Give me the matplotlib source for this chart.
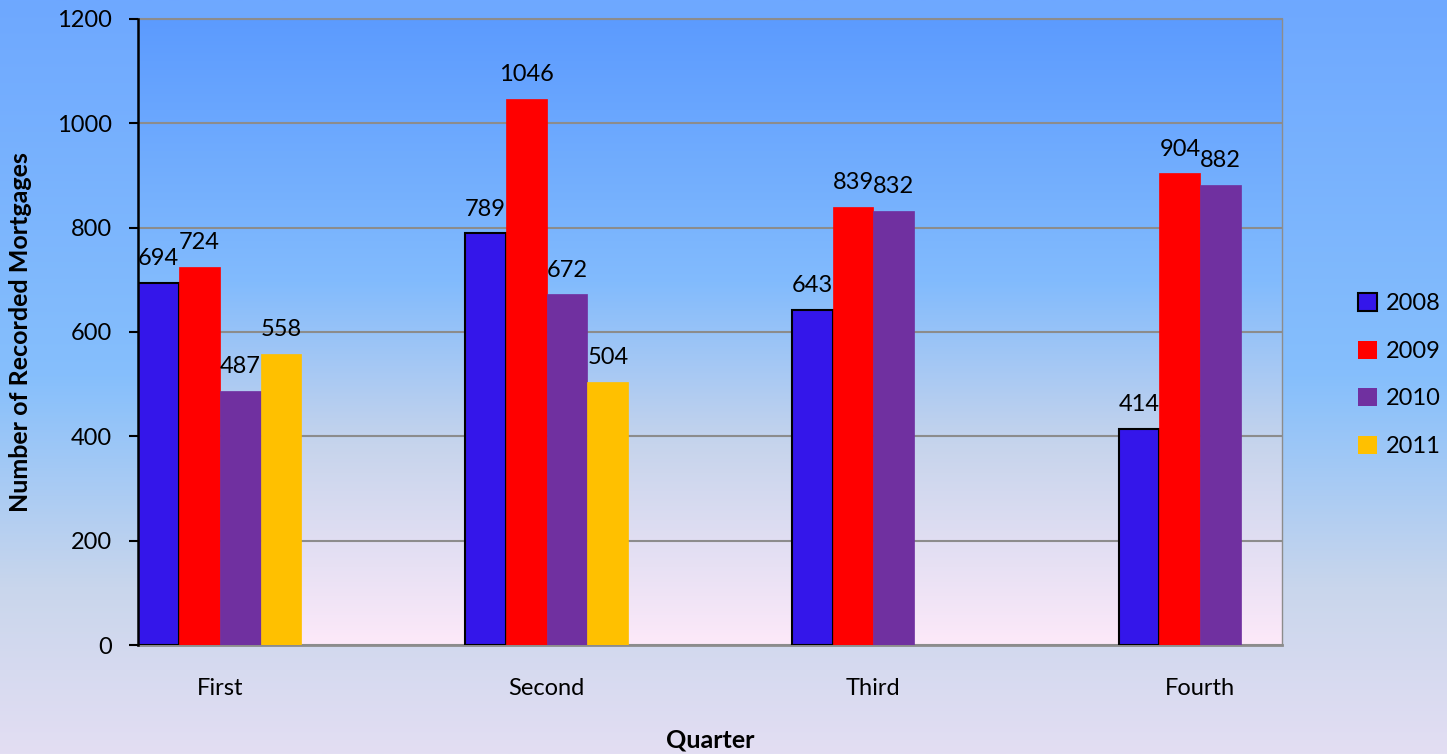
import numpy as np
import matplotlib
matplotlib.use("Agg")
import matplotlib.pyplot as plt
from matplotlib.colors import LinearSegmentedColormap
from matplotlib.patches import Patch

plt.rcParams['font.family'] = ['Lato', 'DejaVu Sans']

quarters = ["First", "Second", "Third", "Fourth"]
years = ["2008", "2009", "2010", "2011"]
values = {
    "2008": [694, 789, 643, 414],
    "2009": [724, 1046, 839, 904],
    "2010": [487, 672, 832, 882],
    "2011": [558, 504, None, None],
}
colors = {"2008": "#3416EA", "2009": "#FF0000", "2010": "#7030A0", "2011": "#FFC000"}
yticks = [0, 200, 400, 600, 800, 1000, 1200]

W, H = 1447, 754
fig = plt.figure(figsize=(W / 100, H / 100), dpi=100)

# figure background gradient
bg = fig.add_axes([0, 0, 1, 1], zorder=-10)
bg_cmap = LinearSegmentedColormap.from_list(
    "bg", [(0.0, "#6EA8FF"), (0.5, "#86BFFC"), (0.78, "#C9D6EC"), (1.0, "#E3DEF3")])
grad = np.linspace(0, 1, 256).reshape(-1, 1)
bg.imshow(grad, cmap=bg_cmap, aspect='auto', extent=[0, 1, 0, 1], origin='upper')
bg.axis('off')

left, right, top, bottom = 138, 1282, 19, 645
ax = fig.add_axes([left / W, (H - bottom) / H, (right - left) / W, (bottom - top) / H])
ax.patch.set_alpha(0)
pa_cmap = LinearSegmentedColormap.from_list(
    "pa", [(0.0, "#5C9BFF"), (0.42, "#82BBFD"), (0.68, "#C6D4EC"), (1.0, "#FDE9F9")])
ax.imshow(grad, cmap=pa_cmap, aspect='auto', extent=[0, 1, 0, 1],
          transform=ax.transAxes, origin='upper', zorder=0)

FS = 17
bw = 0.125
x = np.arange(len(quarters))
for i, yr in enumerate(years):
    off = (i - 1.5) * bw
    for j, v in enumerate(values[yr]):
        if v is None:
            continue
        ec = "black" if yr == "2008" else colors[yr]
        lw = 1.5 if yr == "2008" else 0.5
        ax.bar(x[j] + off, v, width=bw, color=colors[yr], edgecolor=ec,
               linewidth=lw, zorder=3)
        ax.annotate(str(v), (x[j] + off, v), xytext=(0, 10), textcoords='offset points',
                    ha='center', va='bottom', fontsize=FS, zorder=5)

ax.set_xlim(-0.25, 3.25)
ax.set_ylim(0, 1200)
ax.set_yticks(yticks)
ax.set_yticklabels([str(t) for t in yticks], fontsize=FS)
ax.set_xticks(x)
ax.set_xticklabels(quarters, fontsize=FS)
ax.tick_params(axis='x', length=0, pad=24)
ax.tick_params(axis='y', length=6.5, width=1.5, direction='out', pad=12)
ax.grid(axis='y', color='#8C8C8C', linewidth=1.5, zorder=1)
ax.set_axisbelow(False)
for gl in ax.get_ygridlines():
    gl.set_zorder(1)
ax.spines['left'].set_color('black')
ax.spines['left'].set_linewidth(1.8)
ax.spines['left'].set_zorder(4)
ax.spines['bottom'].set_color('#8C8C8C')
ax.spines['bottom'].set_linewidth(2)
ax.spines['right'].set_color('#8C8C8C')
ax.spines['right'].set_linewidth(1)
ax.spines['top'].set_color('#8C8C8C')
ax.spines['top'].set_linewidth(1.5)

ax.set_ylabel("Number of Recorded Mortgages", fontsize=18, fontweight='bold')
ax.yaxis.set_label_coords(-0.0925, 0.5)
ax.set_xlabel("Quarter", fontsize=18, fontweight='bold')
ax.xaxis.set_label_coords(0.5, -0.133)

handles = [Patch(facecolor=colors[y], edgecolor='black' if y == "2008" else colors[y],
                 linewidth=1.5 if y == "2008" else 0) for y in years]
fig.legend(handles, years, loc='center left', bbox_to_anchor=(1346 / W, 1 - 375 / H),
           frameon=False, fontsize=FS, handlelength=0.8, handleheight=0.8,
           handletextpad=0.4, labelspacing=1.12, borderpad=0)

fig.savefig("out.png", dpi=100)
